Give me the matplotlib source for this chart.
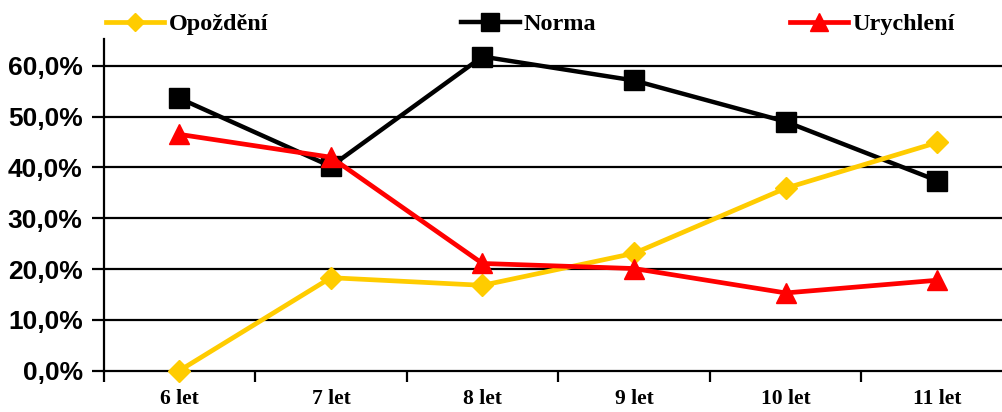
import matplotlib
matplotlib.use("Agg")
import matplotlib.pyplot as plt
from matplotlib.ticker import FixedLocator, FuncFormatter

# Age groups and shares (%) of each development category
categories = ["6 let", "7 let", "8 let", "9 let", "10 let", "11 let"]
opozdeni = [0.0, 18.3, 16.8, 23.1, 35.9, 44.9]
norma = [53.6, 40.2, 61.8, 57.1, 49.0, 37.4]
urychleni = [46.5, 42.0, 21.1, 20.1, 15.3, 17.8]
y_ticks = [0, 10, 20, 30, 40, 50, 60]

fig = plt.figure(figsize=(10.03, 4.12), dpi=100)
ax = fig.add_axes([0.1032, 0.1002, 0.9068, 0.8044])

x = list(range(len(categories)))
l1, = ax.plot(x, opozdeni, color="#FFCC00", lw=3.4, marker="D", ms=11,
              mec="#FFCC00", mfc="#FFCC00", zorder=4, label="Opoždění", clip_on=False)
l2, = ax.plot(x, norma, color="black", lw=3.2, marker="s", ms=15,
              mec="black", mfc="black", zorder=3, label="Norma", clip_on=False)
l3, = ax.plot(x, urychleni, color="#FF0000", lw=3.4, marker="^", ms=15,
              mec="#FF0000", mfc="#FF0000", zorder=5, label="Urychlení", clip_on=False)

ax.set_xlim(-0.5, len(categories) - 0.5)
ax.set_ylim(0, 65.2)

# horizontal gridlines
for v in y_ticks[1:]:
    ax.axhline(v, color="black", lw=1.6, zorder=1)

for s in ["top", "right"]:
    ax.spines[s].set_visible(False)
ax.spines["left"].set_linewidth(1.6)
ax.spines["bottom"].set_linewidth(1.6)

ax.yaxis.set_major_locator(FixedLocator(y_ticks))
ax.yaxis.set_major_formatter(FuncFormatter(lambda v, p: f"{v:.1f}%".replace(".", ",")))
ax.tick_params(axis="y", direction="out", length=9, width=1.6, pad=6)
for t in ax.get_yticklabels():
    t.set_fontfamily("Liberation Sans")
    t.set_fontweight("bold")
    t.set_fontsize(19)

ax.set_xticks(x)
ax.set_xticklabels(categories, fontfamily="Liberation Serif", fontweight="bold", fontsize=15.5)
ax.set_xticks([i - 0.5 for i in range(len(categories) + 1)], minor=True)
ax.tick_params(axis="x", which="major", length=0, pad=13)
ax.tick_params(axis="x", which="minor", direction="out", length=8, width=1.6)

fig.legend(handles=[l1, l2, l3], loc="center left",
           bbox_to_anchor=(106 / 1003, 1 - 24 / 412), ncol=3, frameon=False,
           borderpad=0, borderaxespad=0, handlelength=2.4, handletextpad=0.17,
           columnspacing=7.95, markerscale=0.85,
           prop={"family": "Liberation Serif", "weight": "bold", "size": 17.5})

fig.savefig("out.png", dpi=100)
